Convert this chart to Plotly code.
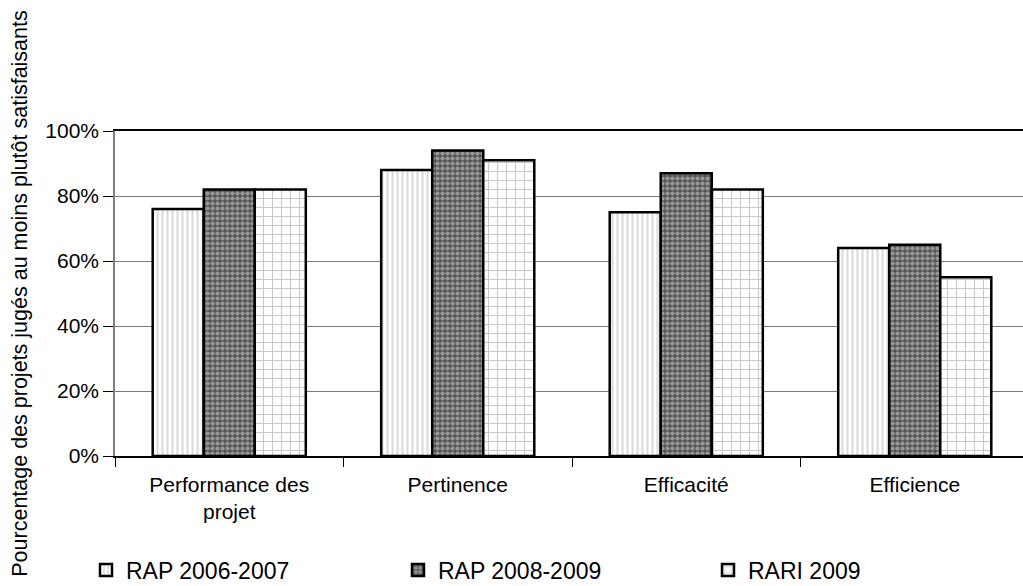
import plotly.graph_objects as go

# Categories and series (share of projects rated at least fairly satisfactory, %)
categories = ["Performance des<br>projet", "Pertinence", "Efficacité", "Efficience"]
series_names = ["RAP 2006-2007", "RAP 2008-2009", "RARI 2009"]
rap_2006_2007 = [76, 88, 75, 64]
rap_2008_2009 = [82, 94, 87, 65]
rari_2009 = [82, 91, 82, 55]
y_ticks = [0, 20, 40, 60, 80, 100]
y_tick_labels = ["0%", "20%", "40%", "60%", "80%", "100%"]

FONT = "Liberation Sans, Arial, sans-serif"

W, H = 1023, 586
M_L, M_R, M_T, M_B = 115, 0, 131, 130
plot_w = W - M_L - M_R
plot_h = H - M_T - M_B

patterns = [
    dict(shape="|", fgcolor="#b4b4b4", bgcolor="#ffffff", size=5, solidity=0.4),
    dict(shape=".", fgcolor="#d9d9d9", bgcolor="#555555", size=5, solidity=0.55),
    dict(shape="+", fgcolor="#8f8f8f", bgcolor="#ffffff", size=9, solidity=0.22),
]
values = [rap_2006_2007, rap_2008_2009, rari_2009]
legend_ids = ["legend", "legend2", "legend3"]
legend_px = [86, 398, 708]  # left edge of each legend box, in pixels

fig = go.Figure()
for name, vals, pat, lg in zip(series_names, values, patterns, legend_ids):
    fig.add_trace(go.Bar(
        name=name,
        x=categories,
        y=vals,
        legend=lg,
        showlegend=True,
        marker=dict(color=pat["bgcolor"], pattern=pat,
                    line=dict(color="#000000", width=2.5)),
        hoverinfo="x+y+name",
    ))

legend_y = (H - M_B - 570) / plot_h
legend_common = dict(
    orientation="h", yanchor="middle", xanchor="left", y=legend_y,
    bgcolor="rgba(0,0,0,0)", borderwidth=0,
    font=dict(family=FONT, size=23, color="#000000"),
)

fig.update_layout(
    width=W, height=H,
    margin=dict(l=M_L, r=M_R, t=M_T, b=M_B, pad=0, autoexpand=False),
    paper_bgcolor="#ffffff", plot_bgcolor="#ffffff",
    showlegend=True,
    barmode="group", bargap=0.33, bargroupgap=0,
    font=dict(family=FONT, color="#000000"),
    legend=dict(x=(legend_px[0] - M_L) / plot_w, **legend_common),
    legend2=dict(x=(legend_px[1] - M_L) / plot_w, **legend_common),
    legend3=dict(x=(legend_px[2] - M_L) / plot_w, **legend_common),
    xaxis=dict(
        range=[-0.5, -0.5 + plot_w / 228.5],
        tickson="boundaries", ticks="outside", ticklen=9, tickwidth=1,
        tickcolor="#000000", showline=True, linecolor="#000000", linewidth=1.5,
        mirror=True, showgrid=False, zeroline=False, ticklabelstandoff=9,
        tickfont=dict(family=FONT, size=21, color="#000000"),
    ),
    yaxis=dict(
        range=[0, 100], tickvals=y_ticks, ticktext=y_tick_labels,
        ticks="outside", ticklen=10, tickwidth=1, tickcolor="#000000",
        showline=True, linecolor="#808080", linewidth=1.5,
        showgrid=True, gridcolor="#7a7a7a", gridwidth=1, zeroline=False,
        tickfont=dict(family=FONT, size=21, color="#000000"),
        title=dict(text="Pourcentage des projets jugés au moins plutôt satisfaisants",
                   font=dict(family=FONT, size=21.5, color="#000000"), standoff=12),
    ),
)

fig.write_html("out.html")
